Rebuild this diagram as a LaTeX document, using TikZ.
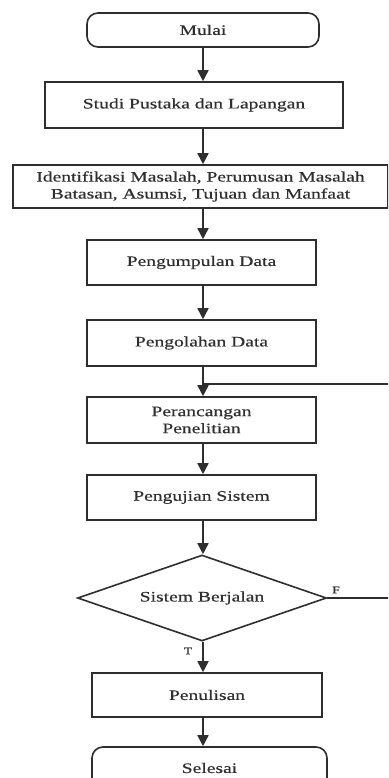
\documentclass[tikz,border=0pt]{standalone}
\usepackage{fontspec}
\setmainfont{Liberation Serif}[FakeStretch=1.35,FakeBold=0.4]
\usetikzlibrary{shapes.geometric,arrows.meta}
\definecolor{ink}{HTML}{2E2E2E}
\begin{document}
\begin{tikzpicture}[x=1pt,y=1pt,
  every node/.style={font=\fontsize{14.5}{17}\selectfont, text=ink},
  proc/.style={draw=ink, line width=1.6pt, rectangle, align=center, inner sep=0pt},
  term/.style={draw=ink, line width=1.6pt, rectangle, rounded corners=11pt, inner sep=0pt},
  decis/.style={draw=ink, line width=1.6pt, diamond, aspect=2.9, inner sep=0pt},
  flow/.style={draw=ink, line width=1.7pt, -{Triangle[length=11pt,width=11pt]}},
  plain/.style={draw=ink, line width=1.7pt},
  lbl/.style={font=\fontsize{10}{11}\selectfont, text=ink}]
\useasboundingbox (0,0) rectangle (388,-778);
\clip (0,0) rectangle (388,-778);
\node[term, minimum width=232, minimum height=34] (mulai) at (203,-30) {Mulai};
\node[proc, minimum width=298, minimum height=46] (studi) at (194,-105) {Studi Pustaka dan Lapangan};
\node[proc, minimum width=375, minimum height=43] (ident) at (200.5,-186.5) {Identifikasi Masalah, Perumusan Masalah\\Batasan, Asumsi, Tujuan dan Manfaat};
\node[proc, minimum width=229, minimum height=45] (kumpul) at (201.5,-262.5) {Pengumpulan Data};
\node[proc, minimum width=229, minimum height=46] (olah) at (201.5,-343) {Pengolahan Data};
\node[proc, minimum width=229, minimum height=46] (ranc) at (201.5,-420) {Perancangan\\Penelitian};
\node[proc, minimum width=229, minimum height=45] (uji) at (201.5,-497.5) {Pengujian Sistem};
\node[decis, minimum width=249, minimum height=86] (dec) at (202,-598) {Sistem Berjalan};
\node[proc, minimum width=230, minimum height=44] (tulis) at (207,-695) {Penulisan};
\node[term, minimum width=235, minimum height=42] (selesai) at (209.5,-768) {Selesai};
\coordinate (x) at (203,0);
\coordinate (j) at (203,-384);
\coordinate (r) at (398,-384);
\draw[flow] (x |- mulai.south) -- (x |- studi.north);
\draw[flow] (x |- studi.south) -- (x |- ident.north);
\draw[flow] (x |- ident.south) -- (x |- kumpul.north);
\draw[flow] (x |- kumpul.south) -- (x |- olah.north);
\draw[flow] (x |- olah.south) -- (x |- ranc.north);
\draw[flow] (x |- ranc.south) -- (x |- uji.north);
\draw[flow] (x |- uji.south) -- (x |- dec.north);
\draw[flow] (x |- dec.south) -- (x |- tulis.north);
\draw[flow] (x |- tulis.south) -- (x |- selesai.north);
\draw[plain] (dec.east) -- (dec.east -| r) -- (r) -- (j);
\node[lbl] (f) at (336,-590) {F};
\node[lbl] (t) at (188,-651) {T};
\end{tikzpicture}
\end{document}
